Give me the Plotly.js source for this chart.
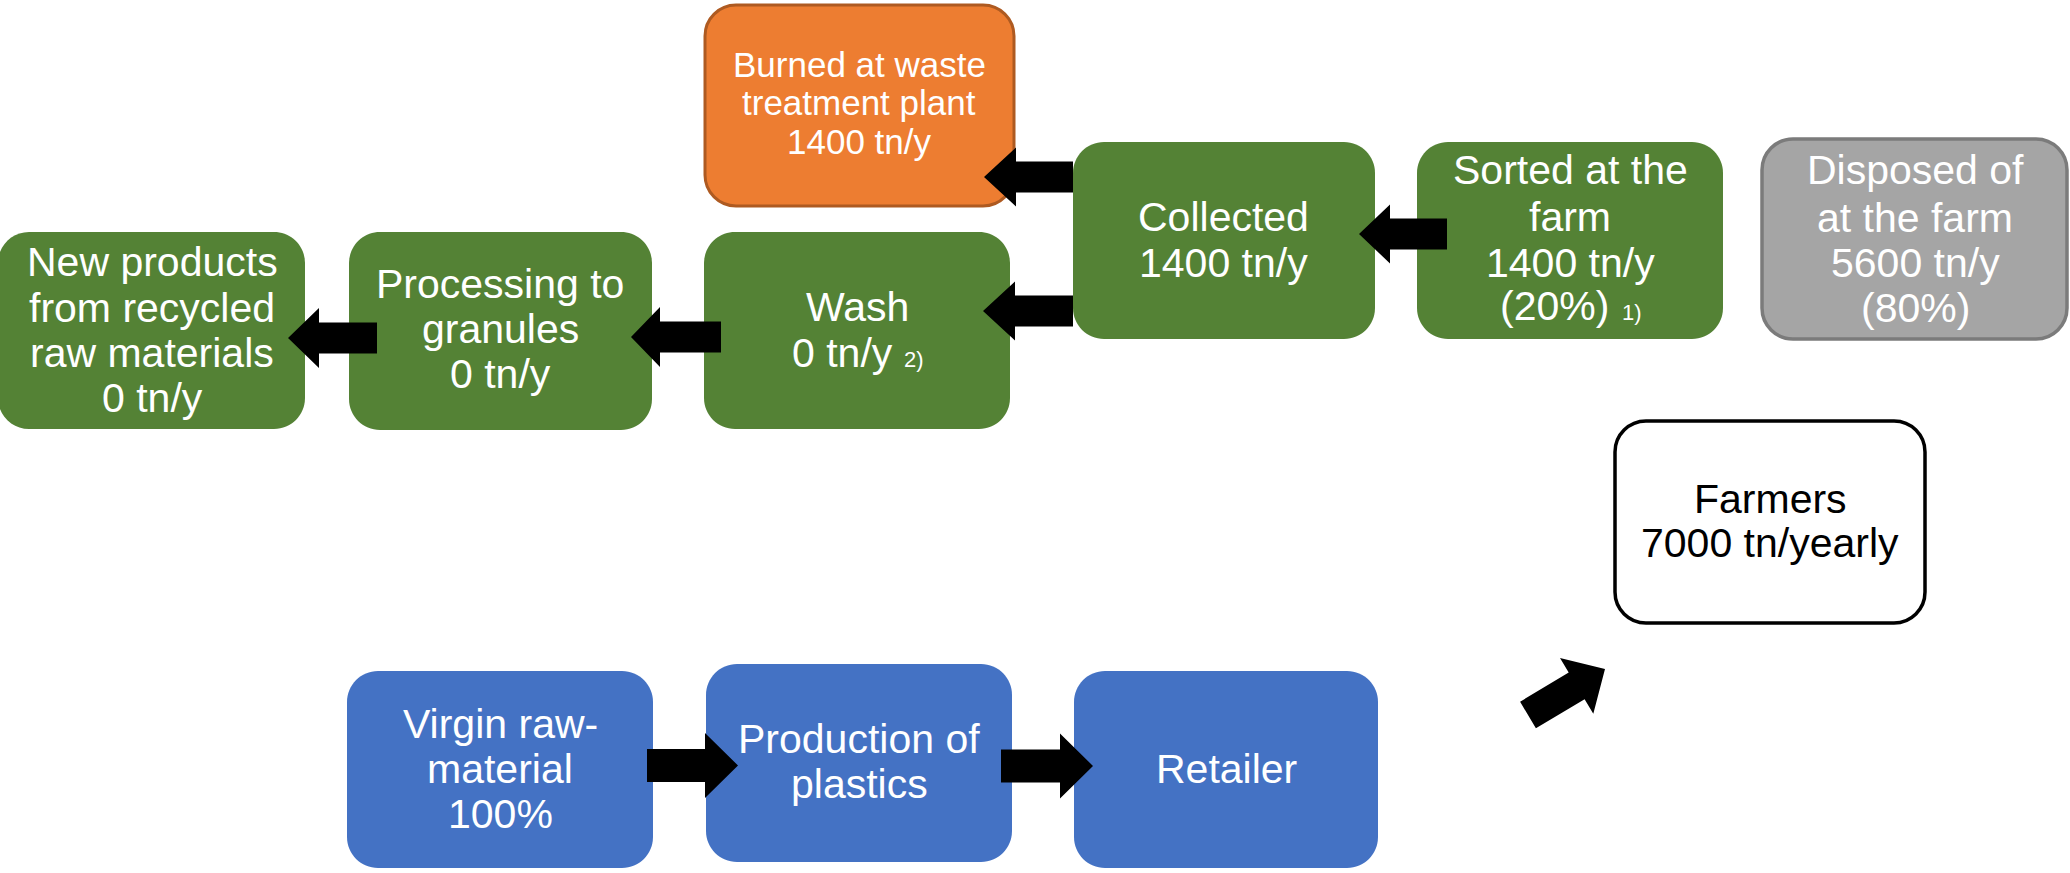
<!DOCTYPE html>
<html>
<head>
<meta charset="utf-8">
<script src="https://cdn.plot.ly/plotly-3.0.1.min.js"></script>
<style>html,body{margin:0;padding:0;background:#fff;}#chart{width:2070px;height:873px;}</style>
</head>
<body>
<div id="chart"></div>
<script>
// ---------- values ----------
const recycleStages = ["New products from recycled raw materials", "Processing to granules", "Wash", "Collected", "Sorted at the farm"];
const recycleTonnes = [0, 0, 0, 1400, 1400];
const burnedTonnes = [1400];
const disposedTonnes = [5600];
const farmersTonnes = [7000];
const shares = ["20%", "80%", "100%"];   // sorted, disposed, virgin raw-material
const supplyStages = ["Virgin raw-material", "Production of plastics", "Retailer"];
const notes = ["1)", "2)"];

// ---------- layout (positions / styles) ----------
const FONT = "Liberation Sans, Arial, sans-serif";
const GREEN = "#548235", ORANGE = "#ED7D31", GRAY = "#A5A5A5", BLUE = "#4472C4";

function rr(x0, y0, x1, y1, r) {
  const c = r * 0.4477;
  return `M ${x0 + r},${y0} L ${x1 - r},${y0} C ${x1 - c},${y0} ${x1},${y0 + c} ${x1},${y0 + r} ` +
         `L ${x1},${y1 - r} C ${x1},${y1 - c} ${x1 - c},${y1} ${x1 - r},${y1} ` +
         `L ${x0 + r},${y1} C ${x0 + c},${y1} ${x0},${y1 - c} ${x0},${y1 - r} ` +
         `L ${x0},${y0 + r} C ${x0},${y0 + c} ${x0 + c},${y0} ${x0 + r},${y0} Z`;
}
function arrowPath(tx, ty, hx, hy, sw, hw, hl) {
  const dx = hx - tx, dy = hy - ty, L = Math.hypot(dx, dy);
  const ux = dx / L, uy = dy / L, nx = -uy, ny = ux;
  const bx = hx - ux * hl, by = hy - uy * hl;
  const p = [
    [tx + nx * sw, ty + ny * sw], [bx + nx * sw, by + ny * sw], [bx + nx * hw, by + ny * hw],
    [hx, hy], [bx - nx * hw, by - ny * hw], [bx - nx * sw, by - ny * sw], [tx - nx * sw, ty - ny * sw]
  ];
  return "M " + p.map(q => q[0].toFixed(1) + "," + q[1].toFixed(1)).join(" L ") + " Z";
}

const t = v => v + " tn/y";

// boxes: rect, fill, border, text colour, font size, lines [text, cx, baseline]
const boxes = [
  { r: [705, 5, 1014, 206], fill: ORANGE, line: "#AE5A21", lw: 3, fc: "#fff", fs: 35,
    lines: [["Burned at waste", 859, 77], ["treatment plant", 859, 115], [t(burnedTonnes[0]), 859, 154]] },
  { r: [-2, 232, 305, 429], fill: GREEN, fc: "#fff", fs: 41,
    lines: [["New products", 152, 276], ["from recycled", 152, 322], ["raw materials", 152, 367], [t(recycleTonnes[0]), 152, 412]] },
  { r: [349, 232, 652, 430], fill: GREEN, fc: "#fff", fs: 41,
    lines: [["Processing to", 500, 298], ["granules", 500, 343], [t(recycleTonnes[1]), 500, 388]] },
  { r: [704, 232, 1010, 429], fill: GREEN, fc: "#fff", fs: 41,
    lines: [[recycleStages[2], 857, 321], [t(recycleTonnes[2]), 842, 367]] },
  { r: [1073, 142, 1375, 339], fill: GREEN, fc: "#fff", fs: 41,
    lines: [[recycleStages[3], 1223, 231], [t(recycleTonnes[3]), 1223, 277]] },
  { r: [1417, 142, 1723, 339], fill: GREEN, fc: "#fff", fs: 41,
    lines: [["Sorted at the", 1570, 184], ["farm", 1570, 231], [t(recycleTonnes[4]), 1570, 277], ["(" + shares[0] + ")", 1554, 320]] },
  { r: [1762, 139, 2067, 339], fill: GRAY, line: "#7B7B7B", lw: 3.5, fc: "#fff", fs: 41,
    lines: [["Disposed of", 1915, 184], ["at the farm", 1915, 232], [t(disposedTonnes[0]), 1915, 277], ["(" + shares[1] + ")", 1915, 322]] },
  { r: [1615, 421, 1925, 623], fill: "#fff", line: "#000", lw: 3.5, fc: "#000", fs: 41,
    lines: [["Farmers", 1770, 513], [farmersTonnes[0] + " tn/yearly", 1770, 557]] },
  { r: [347, 671, 653, 868], fill: BLUE, fc: "#fff", fs: 41,
    lines: [["Virgin raw-", 500, 738], ["material", 500, 783], [shares[2], 500, 828]] },
  { r: [706, 664, 1012, 862], fill: BLUE, fc: "#fff", fs: 41,
    lines: [["Production of", 859, 753], ["plastics", 859, 798]] },
  { r: [1074, 671, 1378, 868], fill: BLUE, fc: "#fff", fs: 41,
    lines: [[supplyStages[2], 1226, 783]] }
];

// arrows: tail x,y  tip x,y  shaft half width, head half width, head length
const arrows = [
  [1073, 177, 984, 177, 15.5, 29.5, 32],
  [1073, 311, 983, 311, 15.5, 29.5, 32],
  [721, 337, 631, 337, 15.5, 30, 29],
  [377, 338, 288, 338, 15.5, 30, 31],
  [1447, 234, 1359, 234, 15.5, 29.5, 31],
  [647, 765.5, 738, 765.5, 16.5, 32.5, 33],
  [1001, 766, 1093, 766, 16.5, 32.5, 33],
  [1528, 715, 1605, 669, 15.5, 32.5, 33]
];

const shapes = [];
const annotations = [];
boxes.forEach(b => {
  shapes.push({
    type: "path", path: rr(b.r[0], b.r[1], b.r[2], b.r[3], 31),
    xref: "x", yref: "y", fillcolor: b.fill,
    line: { color: b.line || b.fill, width: b.line ? b.lw : 0 }, layer: "above"
  });
  b.lines.forEach(l => {
    annotations.push({
      x: l[1], y: l[2] - 0.3465 * b.fs, xref: "x", yref: "y", text: l[0], showarrow: false,
      xanchor: "center", yanchor: "middle", borderpad: 0,
      font: { family: FONT, size: b.fs, color: b.fc }
    });
  });
});
arrows.forEach(a => {
  shapes.push({
    type: "path", path: arrowPath(a[0], a[1], a[2], a[3], a[4], a[5], a[6]),
    xref: "x", yref: "y", fillcolor: "#000", line: { width: 0 }, layer: "above"
  });
});
// footnote marks
[[notes[0], 1632, 320], [notes[1], 914, 367]].forEach(n => {
  annotations.push({
    x: n[1], y: n[2] - 0.3465 * 22, xref: "x", yref: "y", text: n[0], showarrow: false,
    xanchor: "center", yanchor: "middle", borderpad: 0,
    font: { family: FONT, size: 22, color: "#fff" }
  });
});

const layout = {
  width: 2070, height: 873,
  margin: { l: 0, r: 0, t: 0, b: 0, pad: 0 },
  paper_bgcolor: "#fff", plot_bgcolor: "#fff",
  xaxis: { range: [0, 2070], visible: false, fixedrange: true },
  yaxis: { range: [873, 0], visible: false, fixedrange: true },
  showlegend: false,
  shapes: shapes,
  annotations: annotations
};

Plotly.newPlot("chart", [{ x: [], y: [], type: "scatter", mode: "markers", hoverinfo: "skip" }], layout,
  { displayModeBar: false, staticPlot: true });
</script>
</body>
</html>
